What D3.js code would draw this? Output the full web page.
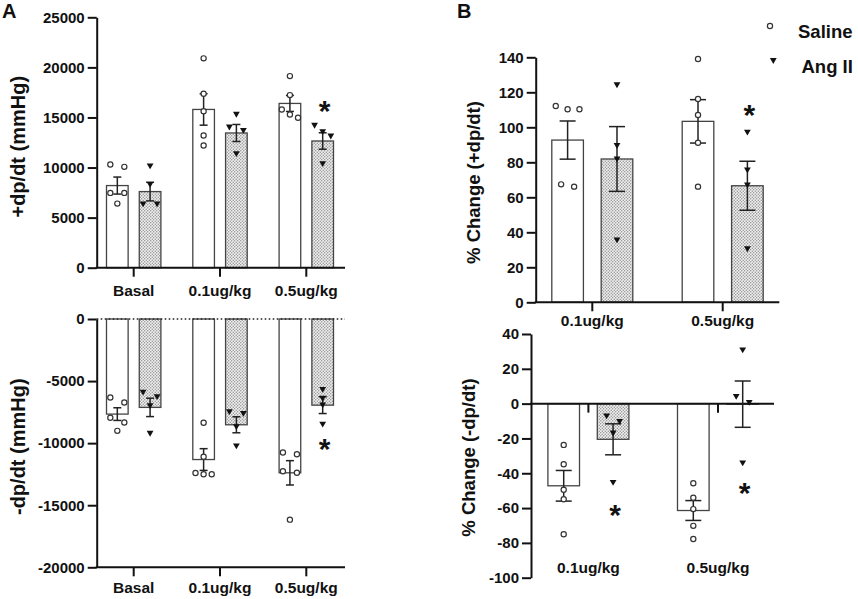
<!DOCTYPE html>
<html>
<head>
<meta charset="utf-8">
<script src="https://cdn.jsdelivr.net/npm/d3@7"></script>
<style>
  body { margin: 0; background: #fff; }
  text { font-family: "Liberation Sans", Arial, sans-serif; font-weight: bold; fill: #111; }
</style>
</head>
<body>
<div id="chart"></div>
<script>
// categories
let basalGroups = ["Basal", "0.1ug/kg", "0.5ug/kg"];
let doseGroups = ["0.1ug/kg", "0.5ug/kg"];
let series = ["Saline", "Ang II"];

// A (top): +dp/dt (mmHg)
let plusSalinePts = [[10300, 10070, 7470, 7470, 6400], [20900, 17370, 15630, 13200, 12200], [19130, 17230, 15800, 14970, 15300]];
let plusAngPts = [[10150, 8300, 6350, 6350], [15300, 14030, 13700, 11370], [14200, 13570, 13130, 10370]];
let plusSalineMean = [8200, 15800, 16400];
let plusSalineSem = [850, 1570, 800];
let plusAngMean = [7600, 13450, 12650];
let plusAngSem = [930, 850, 820];
let plusStars = [null, null, 16300];

// A (bottom): -dp/dt (mmHg)
let minusSalinePts = [[-6320, -6720, -7960, -8340, -9010], [-8360, -11100, -12400, -12500, -12500], [-10750, -10890, -12260, -12390, -16160]];
let minusAngPts = [[-6270, -5910, -6990, -9220], [-7610, -7470, -8680, -10240], [-5680, -6400, -6940, -8490]];
let minusSalineMean = [-7660, -11320, -12390];
let minusSalineSem = [510, 875, 980];
let minusAngMean = [-7120, -8520, -6940];
let minusAngSem = [740, 645, 675];
let minusStars = [null, null, -9900];

// B (top): % Change (+dp/dt)
let pctPlusSalinePts = [[110.3, 112.2, 110.3, 66.1, 67.4], [139, 116.2, 107, 91.2, 66.1]];
let pctPlusAngPts = [[124.2, 89.5, 81.9, 35.6], [97.1, 75.6, 67, 30.5]];
let pctPlusSalineMean = [92.7, 103.4];
let pctPlusSalineSem = [10.9, 12.4];
let pctPlusAngMean = [81.9, 66.6];
let pctPlusAngSem = [18.5, 14];
let pctPlusStars = [null, 110.9];

// B (bottom): % Change (-dp/dt)
let pctMinusSalinePts = [[-23.7, -34.8, -49.5, -54.9, -75], [-45.7, -54, -60.6, -70.2, -77.8]];
let pctMinusAngPts = [[-10.3, -7.1, -17, -45.4], [30.8, 4, 0.6, -34.2]];
let pctMinusSalineMean = [-47.2, -61.4];
let pctMinusSalineSem = [8.8, 5.7];
let pctMinusAngMean = [-20.5, -0.3];
let pctMinusAngSem = [8.9, 13.3];
let pctMinusStars = [-60, -47.6];

// svg wrapper
let svgWidth = 858;
let svgHeight = 599;

let svg = d3.select("#chart")
  .append("svg")
  .attr("width", svgWidth)
  .attr("height", svgHeight);

svg.append("rect")
  .attr("width", svgWidth)
  .attr("height", svgHeight)
  .attr("fill", "#fff");

// stipple fill for the Ang II bars
let pat = svg.append("defs").append("pattern")
  .attr("id", "dots")
  .attr("patternUnits", "userSpaceOnUse")
  .attr("width", 3)
  .attr("height", 3);
pat.append("rect").attr("width", 3).attr("height", 3).attr("fill", "#f0f0f0");
pat.append("circle").attr("cx", 0.75).attr("cy", 0.75).attr("r", 0.7).attr("fill", "#888");
pat.append("circle").attr("cx", 2.25).attr("cy", 2.25).attr("r", 0.7).attr("fill", "#888");

// downward triangle marker
function tri(x, y) {
  return `M${x - 3.4},${y - 2.6}L${x + 3.4},${y - 2.6}L${x},${y + 3.2}Z`;
}

// spread points that sit at nearly the same height side by side
function spread(vals, yScale, d, maxSpread) {
  let idx = vals.map((v, i) => ({ i: i, py: yScale(v) })).sort((a, b) => a.py - b.py);
  let offs = vals.map(() => 0);
  let cluster = [idx[0]];
  function flush() {
    let n = cluster.length;
    let s = n > 1 ? Math.min(d, maxSpread / (n - 1)) : 0;
    cluster.forEach((p, k) => { offs[p.i] = (k - (n - 1) / 2) * s; });
  }
  for (let k = 1; k < idx.length; k++) {
    if (idx[k].py - idx[k - 1].py < 6.5) cluster.push(idx[k]);
    else { flush(); cluster = [idx[k]]; }
  }
  flush();
  return offs;
}

function drawPanel(p) {
  let g = svg.append("g");

  let y = d3.scaleLinear().domain(p.yDomain).range(p.yRange);
  let x0 = d3.scalePoint().domain(p.groups).range(p.groupRange);
  let x1 = d3.scaleBand().domain(series).range([-p.innerHalf, p.innerHalf]).paddingInner(p.pad);
  let bw = x1.bandwidth();
  let zeroY = y(0);

  // bars
  series.forEach((s, k) => {
    g.selectAll(null)
      .data(p.means[k])
      .enter()
      .append("rect")
      .attr("x", (d, i) => x0(p.groups[i]) + x1(s))
      .attr("y", d => Math.min(y(d), zeroY))
      .attr("width", bw)
      .attr("height", d => Math.abs(y(d) - zeroY))
      .attr("fill", k === 0 ? "#fff" : "url(#dots)")
      .attr("stroke", "#444")
      .attr("stroke-width", 1.3);
  });

  // dotted zero line
  if (p.dottedZero) {
    g.append("line")
      .attr("x1", p.axisX).attr("x2", p.xEnd)
      .attr("y1", zeroY).attr("y2", zeroY)
      .attr("stroke", "#222")
      .attr("stroke-width", 1.6)
      .attr("stroke-dasharray", "1.6,2.4");
  }

  // y axis
  let yAxis = g.append("g")
    .attr("transform", `translate(${p.axisX},0)`)
    .call(d3.axisLeft(y)
      .tickValues(p.ticks)
      .tickFormat(d => String(d))
      .tickSize(9)
      .tickPadding(3)
      .tickSizeOuter(0));
  yAxis.select(".domain").attr("stroke", "#111").attr("stroke-width", 2);
  yAxis.selectAll(".tick line").attr("stroke", "#111").attr("stroke-width", 2);
  yAxis.selectAll(".tick text")
    .style("font-size", "15px")
    .style("font-family", "'Liberation Sans', Arial, sans-serif")
    .style("font-weight", "bold")
    .attr("fill", "#111");

  // x axis line and ticks
  let xAxisY = p.xAxisAtZero ? zeroY : p.yRange[0];
  g.append("line")
    .attr("x1", p.axisX - 1).attr("x2", p.xEnd)
    .attr("y1", xAxisY).attr("y2", xAxisY)
    .attr("stroke", "#111")
    .attr("stroke-width", 2);
  g.selectAll(null)
    .data(p.groups)
    .enter()
    .append("line")
    .attr("x1", d => x0(d)).attr("x2", d => x0(d))
    .attr("y1", xAxisY).attr("y2", xAxisY + 9)
    .attr("stroke", "#111")
    .attr("stroke-width", 2);

  // category labels
  g.selectAll(null)
    .data(p.groups)
    .enter()
    .append("text")
    .attr("x", d => x0(d))
    .attr("y", p.labelY)
    .attr("text-anchor", "middle")
    .style("font-size", "15.5px")
    .text(d => d);

  // error bars (mean +/- SEM)
  series.forEach((s, k) => {
    p.means[k].forEach((m, i) => {
      let cx = x0(p.groups[i]) + x1(s) + bw / 2;
      let e = p.sems[k][i];
      let eg = g.append("g").attr("stroke", "#222").attr("stroke-width", 1.5);
      eg.append("line").attr("x1", cx).attr("x2", cx).attr("y1", y(m - e)).attr("y2", y(m + e));
      eg.append("line").attr("x1", cx - p.capW / 2).attr("x2", cx + p.capW / 2).attr("y1", y(m - e)).attr("y2", y(m - e));
      eg.append("line").attr("x1", cx - p.capW / 2).attr("x2", cx + p.capW / 2).attr("y1", y(m + e)).attr("y2", y(m + e));
    });
  });

  // individual animals
  series.forEach((s, k) => {
    p.points[k].forEach((vals, i) => {
      let cx = x0(p.groups[i]) + x1(s) + bw / 2;
      let offs = spread(vals, y, p.dx, bw * 0.75);
      if (k === 0) {
        g.selectAll(null)
          .data(vals)
          .enter()
          .append("circle")
          .attr("cx", (d, j) => cx + offs[j])
          .attr("cy", d => y(d))
          .attr("r", 2.6)
          .attr("fill", "#fff")
          .attr("stroke", "#333")
          .attr("stroke-width", 1.2);
      } else {
        g.selectAll(null)
          .data(vals)
          .enter()
          .append("path")
          .attr("d", (d, j) => tri(cx + offs[j], y(d)))
          .attr("fill", "#111");
      }
    });
  });

  // significance stars over Ang II
  p.stars.forEach((v, i) => {
    if (v === null) return;
    g.append("text")
      .attr("x", x0(p.groups[i]) + x1("Ang II") + bw / 2 + 2)
      .attr("y", y(v) + 17)
      .attr("text-anchor", "middle")
      .style("font-size", "30px")
      .text("*");
  });

  // y axis title
  g.append("text")
    .attr("transform", `translate(${p.titleX},${p.titleY}) rotate(-90)`)
    .attr("text-anchor", "middle")
    .style("font-size", p.titleSize + "px")
    .text(p.title);
}

drawPanel({
  groups: basalGroups,
  yDomain: [0, 25000], yRange: [267.7, 17.3], ticks: d3.range(0, 25001, 5000),
  axisX: 96.7, xEnd: 345, groupRange: [133.7, 306.3], innerHalf: 27.2, pad: 0.34,
  labelY: 296, capW: 8, dx: 14,
  means: [plusSalineMean, plusAngMean], sems: [plusSalineSem, plusAngSem],
  points: [plusSalinePts, plusAngPts], stars: plusStars,
  title: "+dp/dt (mmHg)", titleX: 25, titleY: 146.7, titleSize: 20
});

drawPanel({
  groups: basalGroups,
  yDomain: [-20000, 0], yRange: [567.3, 319], ticks: d3.range(-20000, 1, 5000),
  axisX: 96.7, xEnd: 345, groupRange: [133.7, 306.3], innerHalf: 27.2, pad: 0.34,
  labelY: 593, capW: 8, dx: 14, dottedZero: true,
  means: [minusSalineMean, minusAngMean], sems: [minusSalineSem, minusAngSem],
  points: [minusSalinePts, minusAngPts], stars: minusStars,
  title: "-dp/dt (mmHg)", titleX: 25, titleY: 446.7, titleSize: 20
});

drawPanel({
  groups: doseGroups,
  yDomain: [0, 140], yRange: [302.3, 57.3], ticks: d3.range(0, 141, 20),
  axisX: 535.7, xEnd: 779.3, groupRange: [592.3, 722.7], innerHalf: 40.5, pad: 0.36,
  labelY: 326, capW: 16, dx: 13,
  means: [pctPlusSalineMean, pctPlusAngMean], sems: [pctPlusSalineSem, pctPlusAngSem],
  points: [pctPlusSalinePts, pctPlusAngPts], stars: pctPlusStars,
  title: "% Change (+dp/dt)", titleX: 480, titleY: 182.5, titleSize: 18.5
});

drawPanel({
  groups: doseGroups,
  yDomain: [-100, 40], yRange: [577.7, 334], ticks: d3.range(-100, 41, 20),
  axisX: 531, xEnd: 774, groupRange: [588.4, 718], innerHalf: 40.5, pad: 0.36,
  labelY: 573, capW: 16, dx: 13, xAxisAtZero: true,
  means: [pctMinusSalineMean, pctMinusAngMean], sems: [pctMinusSalineSem, pctMinusAngSem],
  points: [pctMinusSalinePts, pctMinusAngPts], stars: pctMinusStars,
  title: "% Change (-dp/dt)", titleX: 475, titleY: 457.5, titleSize: 18.5
});

// panel letters
svg.append("text").attr("x", 2).attr("y", 18).style("font-size", "20px").text("A");
svg.append("text").attr("x", 457).attr("y", 18).style("font-size", "20px").text("B");

// legend
let legend = svg.append("g");
legend.append("circle")
  .attr("cx", 770).attr("cy", 26).attr("r", 2.6)
  .attr("fill", "#fff").attr("stroke", "#333").attr("stroke-width", 1.2);
legend.append("text").attr("x", 798).attr("y", 38).style("font-size", "18.5px").text(series[0]);
legend.append("path").attr("d", tri(773.3, 60.7)).attr("fill", "#111");
legend.append("text").attr("x", 801.5).attr("y", 73).style("font-size", "18.5px").text(series[1]);
</script>
</body>
</html>
